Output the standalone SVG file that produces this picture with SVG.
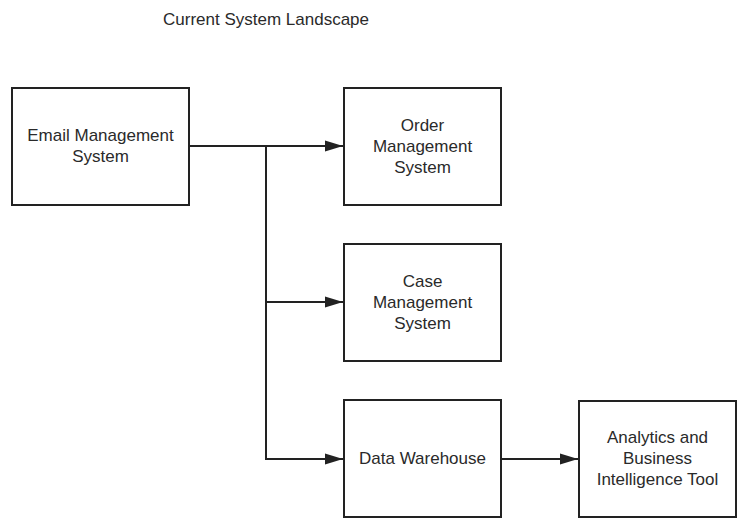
<svg xmlns="http://www.w3.org/2000/svg" width="742" height="531" viewBox="0 0 742 531">
<style>
.box{fill:#fff;stroke:#222;stroke-width:2}
.lbl{font-family:"Liberation Sans",Arial,sans-serif;font-size:17px;fill:#2a2a2a;text-anchor:middle}
.con{fill:none;stroke:#222;stroke-width:2}
</style>
<defs>
<marker id="ah" markerUnits="userSpaceOnUse" markerWidth="18" markerHeight="12" refX="18" refY="6" orient="auto">
<path d="M0,0.5 L18,6 L0,11.5 z" fill="#222"/>
</marker>
</defs>
<rect width="742" height="531" fill="#fff"/>
<text class="lbl" x="266" y="25">Current System Landscape</text>
<g id="email">
<rect class="box" x="12" y="88" width="177" height="117"/>
<text class="lbl" x="100.5" y="141">Email Management</text>
<text class="lbl" x="100.5" y="162">System</text>
</g>
<g id="order">
<rect class="box" x="344" y="88" width="157" height="117"/>
<text class="lbl" x="422.5" y="131">Order</text>
<text class="lbl" x="422.5" y="152">Management</text>
<text class="lbl" x="422.5" y="173">System</text>
</g>
<g id="case">
<rect class="box" x="344" y="244" width="157" height="117"/>
<text class="lbl" x="422.5" y="287">Case</text>
<text class="lbl" x="422.5" y="308">Management</text>
<text class="lbl" x="422.5" y="329">System</text>
</g>
<g id="dw">
<rect class="box" x="344" y="400" width="157" height="117"/>
<text class="lbl" x="422.5" y="464">Data Warehouse</text>
</g>
<g id="analytics">
<rect class="box" x="579" y="401" width="157" height="116"/>
<text class="lbl" x="657.5" y="443">Analytics and</text>
<text class="lbl" x="657.5" y="464">Business</text>
<text class="lbl" x="657.5" y="485">Intelligence Tool</text>
</g>
<g id="connectors">
<path class="con" d="M189,146 H343" marker-end="url(#ah)"/>
<path class="con" d="M266,146 V459 H343" marker-end="url(#ah)"/>
<path class="con" d="M266,302 H343" marker-end="url(#ah)"/>
<path class="con" d="M501,459 H578" marker-end="url(#ah)"/>
</g>
</svg>
